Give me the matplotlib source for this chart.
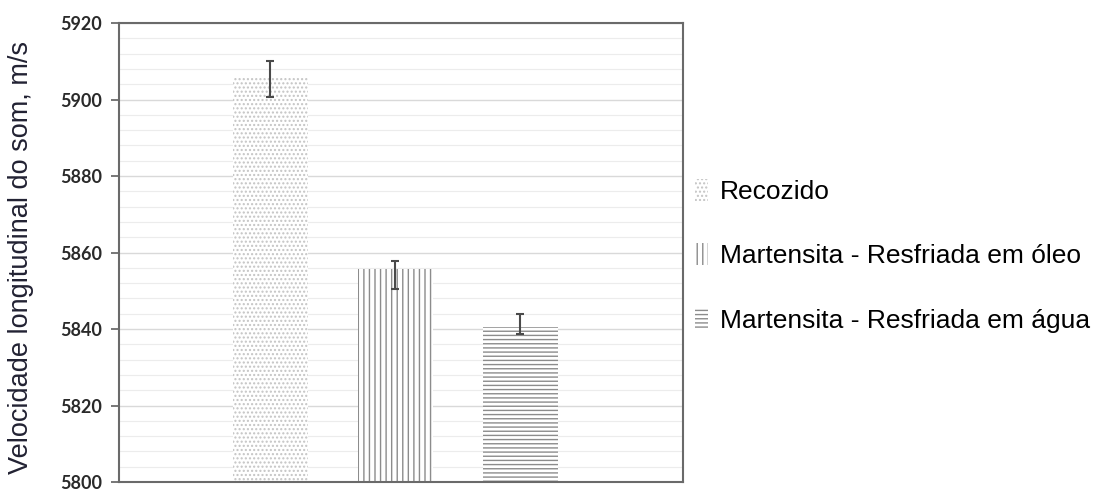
import matplotlib.pyplot as plt
import numpy as np

# Dados
categorias = ["Recozido", "Martensita - Resfriada em óleo", "Martensita - Resfriada em água"]
velocidade = [5905.7, 5855.6, 5840.5]
erro_inf = [5.0, 5.1, 1.8]
erro_sup = [4.4, 2.2, 3.4]
hachuras = ["....", "|||", "----"]
cores_hachura = ["#c4c4c4", "#8c8c8c", "#8c8c8c"]

plt.rcParams['font.family'] = ['Liberation Sans', 'DejaVu Sans']
plt.rcParams['hatch.linewidth'] = 1.0

fig = plt.figure(figsize=(11.01, 4.90), dpi=100)
ax = fig.add_axes([119/1101, 8/490, 564/1101, 459/490])

x = np.arange(len(categorias))
for i in range(len(categorias)):
    ax.bar(x[i], velocidade[i] - 5800, bottom=5800, width=0.6,
           color='white', edgecolor=cores_hachura[i], linewidth=0,
           hatch=hachuras[i], label=categorias[i], zorder=2)

ax.errorbar(x, velocidade, yerr=[erro_inf, erro_sup], fmt='none',
            ecolor='#4a4a4a', elinewidth=1.5, capsize=3, capthick=1.5, zorder=3)

ax.set_xlim(-1.21, 3.30)
ax.set_ylim(5800, 5920)
ax.set_yticks(np.arange(5800, 5921, 20))
ax.set_yticks(np.arange(5800, 5921, 4), minor=True)
ax.grid(axis='y', which='major', color='#d9d9d9', linewidth=1.0, zorder=0)
ax.grid(axis='y', which='minor', color='#ececec', linewidth=0.8, zorder=0)
ax.set_axisbelow(True)
ax.set_xticks([])
ax.tick_params(axis='y', which='major', length=6, width=1.2, color='#606060', pad=6)
ax.tick_params(axis='y', which='minor', length=0)
for lbl in ax.get_yticklabels():
    lbl.set_family(['Lato', 'DejaVu Sans'])
    lbl.set_fontweight('bold')
    lbl.set_fontsize(13)
    lbl.set_color('#2a2a2a')
for s in ax.spines.values():
    s.set_color('#6a6a6a')
    s.set_linewidth(1.5)

ax.set_ylabel('Velocidade longitudinal do som, m/s', fontsize=19.5, color='#222233')
ax.yaxis.set_label_coords(-85/564, 0.49)

fig.legend(loc='center left', bbox_to_anchor=(671/1101, 0.478), frameon=False,
           fontsize=19, handlelength=0.5, handleheight=0.9, handletextpad=0.45,
           labelspacing=1.5)

fig.savefig('out.png', dpi=100)
